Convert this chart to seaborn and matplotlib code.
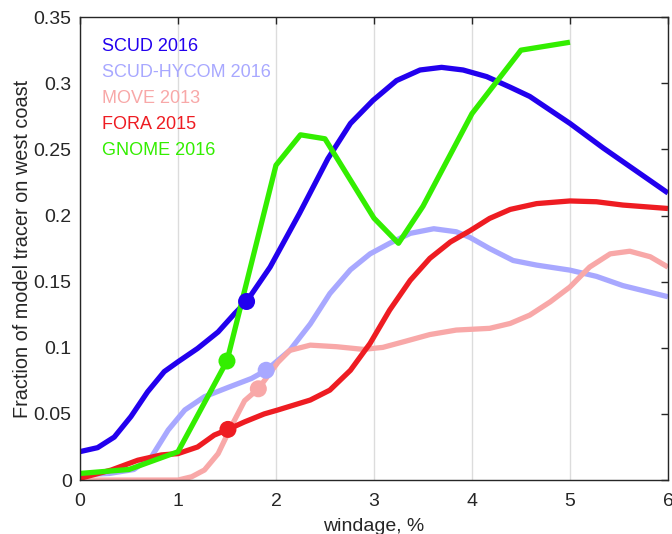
import matplotlib
matplotlib.use("Agg")
import matplotlib.pyplot as plt
import seaborn as sns
import pandas as pd

# values
scud_x = [0, 0.18, 0.35, 0.52, 0.69, 0.86, 1.0, 1.2, 1.41, 1.58, 1.7, 1.94, 2.24, 2.53, 2.76, 2.99, 3.23, 3.47, 3.69, 3.91, 4.15, 4.39, 4.59, 5.0, 5.34, 5.67, 6.0]
scud_y = [0.0215, 0.0245, 0.0325, 0.048, 0.0667, 0.082, 0.0894, 0.0995, 0.112, 0.126, 0.135, 0.161, 0.2016, 0.243, 0.2696, 0.287, 0.302, 0.310, 0.312, 0.310, 0.305, 0.297, 0.290, 0.2696, 0.251, 0.234, 0.217]

hycom_x = [0, 0.3, 0.55, 0.73, 0.9, 1.07, 1.27, 1.51, 1.75, 1.9, 2.14, 2.35, 2.55, 2.76, 2.96, 3.16, 3.37, 3.61, 3.84, 3.98, 4.18, 4.42, 4.66, 5.0, 5.27, 5.54, 6.0]
hycom_y = [0.004, 0.005, 0.008, 0.0176, 0.0378, 0.053, 0.063, 0.070, 0.0768, 0.083, 0.098, 0.118, 0.141, 0.159, 0.171, 0.179, 0.1865, 0.190, 0.1877, 0.1834, 0.175, 0.166, 0.1625, 0.1587, 0.154, 0.147, 0.1386]

move_x = [0, 0.5, 1.0, 1.14, 1.27, 1.41, 1.54, 1.68, 1.82, 2.02, 2.14, 2.35, 2.62, 2.89, 3.09, 3.30, 3.57, 3.84, 4.18, 4.39, 4.59, 4.80, 5.0, 5.2, 5.41, 5.61, 5.82, 6.0]
move_y = [0.0, 0.0, 0.0, 0.0025, 0.0076, 0.020, 0.040, 0.060, 0.069, 0.089, 0.098, 0.102, 0.1008, 0.0988, 0.1003, 0.1045, 0.110, 0.1134, 0.1147, 0.1184, 0.1247, 0.1348, 0.146, 0.161, 0.171, 0.173, 0.1688, 0.161]

fora_x = [0, 0.32, 0.59, 0.83, 1.0, 1.2, 1.37, 1.51, 1.68, 1.88, 2.02, 2.35, 2.55, 2.76, 2.96, 3.16, 3.37, 3.57, 3.78, 3.98, 4.18, 4.39, 4.66, 5.0, 5.27, 5.54, 6.0]
fora_y = [0.0013, 0.0076, 0.015, 0.019, 0.020, 0.025, 0.034, 0.0383, 0.044, 0.050, 0.053, 0.0605, 0.068, 0.083, 0.1033, 0.1285, 0.151, 0.1676, 0.180, 0.1885, 0.1978, 0.2046, 0.209, 0.211, 0.2104, 0.2079, 0.2053]

gnome_x = [0, 0.5, 1.0, 1.5, 2.0, 2.25, 2.5, 3.0, 3.25, 3.5, 4.0, 4.5, 5.0]
gnome_y = [0.005, 0.008, 0.0214, 0.090, 0.238, 0.261, 0.258, 0.198, 0.179, 0.207, 0.277, 0.325, 0.331]

labels = ["SCUD 2016", "SCUD-HYCOM 2016", "MOVE 2013", "FORA 2015", "GNOME 2016"]
colors = ["#2200ee", "#a8a8ff", "#f8a8a8", "#ee1c22", "#33ee00"]

# highlighted points
mark_x = [1.7, 1.9, 1.82, 1.51, 1.5]
mark_y = [0.135, 0.083, 0.069, 0.0383, 0.090]

xticks = [0, 1, 2, 3, 4, 5, 6]
yticks = [0, 0.05, 0.1, 0.15, 0.2, 0.25, 0.3, 0.35]
ytick_labels = ["0", "0.05", "0.1", "0.15", "0.2", "0.25", "0.3", "0.35"]

series = [(scud_x, scud_y), (hycom_x, hycom_y), (move_x, move_y), (fora_x, fora_y), (gnome_x, gnome_y)]

sns.set_style("white")
plt.rcParams['font.family'] = ['Liberation Sans', 'DejaVu Sans']

fig = plt.figure(figsize=(6.72, 5.34), dpi=100)
ax = fig.add_axes([0.119, 0.101, 0.875, 0.867])

for (xs, ys), lab, col, mx, my in zip(series, labels, colors, mark_x, mark_y):
    df = pd.DataFrame({"windage": xs, "frac": ys})
    sns.lineplot(data=df, x="windage", y="frac", color=col, lw=3.8, sort=False, ax=ax, label=lab,
                 solid_joinstyle="round", solid_capstyle="butt")
    sns.scatterplot(x=[mx], y=[my], color=col, s=150, edgecolor="none", ax=ax, zorder=5)

ax.set_xlim(0, 6)
ax.set_ylim(0, 0.35)
ax.set_xticks(xticks)
ax.set_yticks(yticks)
ax.set_yticklabels(ytick_labels)
ax.xaxis.grid(True, color="#dcdcdc", lw=1)
ax.yaxis.grid(False)
ax.set_axisbelow(True)
ax.tick_params(direction="in", length=5, width=1, top=True, right=True, labelsize=14,
               colors="#262626", labelcolor="#262626")
ax.tick_params(axis="x", pad=9)
ax.tick_params(axis="y", pad=6)
for s in ax.spines.values():
    s.set_visible(True)
    s.set_color("#262626")
    s.set_linewidth(1)

ax.set_xlabel("windage, %", fontsize=14, color="#262626", labelpad=6)
ax.set_ylabel("Fraction of model tracer on west coast", fontsize=14.3, color="#262626", labelpad=1)

leg = ax.legend(loc="upper left", bbox_to_anchor=(0.01, 0.99), frameon=False, handlelength=0,
                handletextpad=0, fontsize=13, labelspacing=0.5, labelcolor=colors)
for h in leg.legend_handles:
    h.set_visible(False)

fig.savefig("out.png", dpi=100)
